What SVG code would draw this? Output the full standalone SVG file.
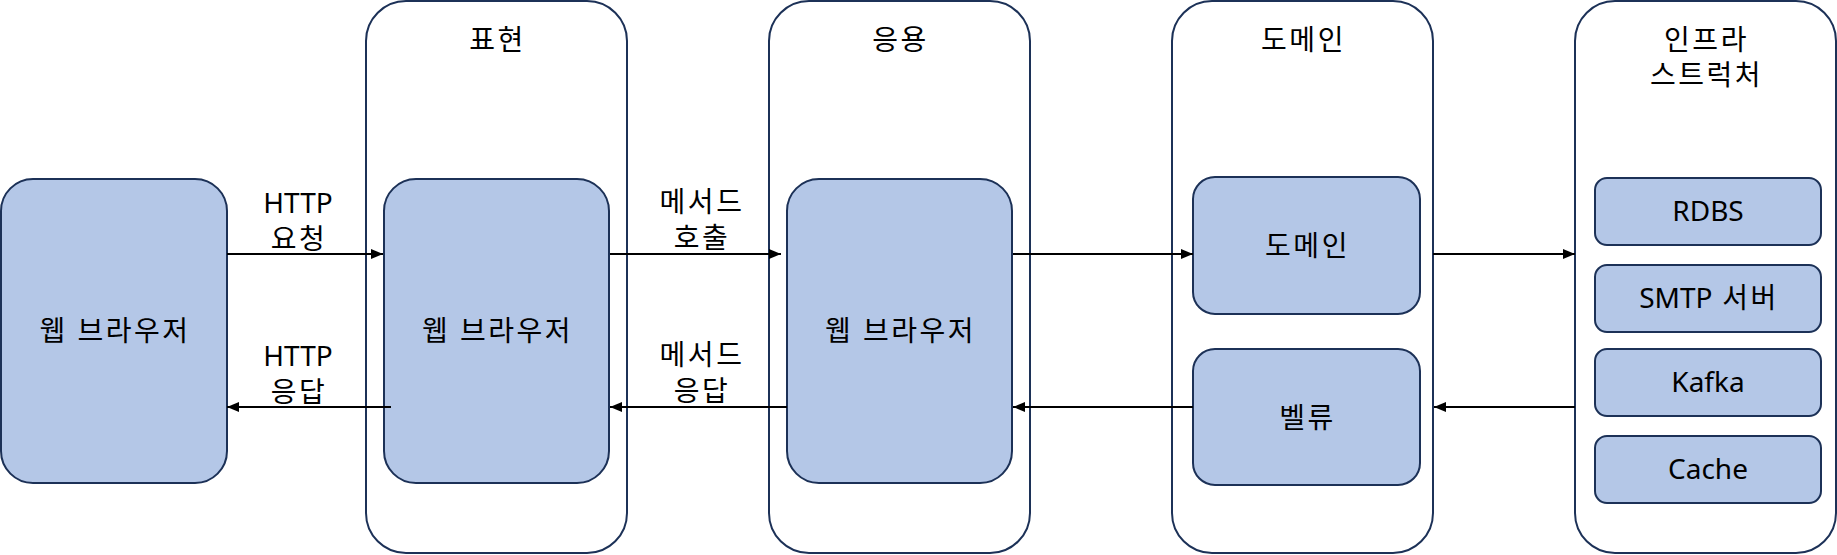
<svg xmlns="http://www.w3.org/2000/svg" width="1837" height="555" viewBox="0 0 1837 555">
<style>
.col{fill:#ffffff;stroke:#1c3157;stroke-width:2}
.box{fill:#b4c7e7;stroke:#1c3157;stroke-width:2}
.t{font-family:"Noto Sans","Noto Sans CJK KR",sans-serif;font-size:28px;fill:#000;text-anchor:middle}
.k{letter-spacing:2.5px}
.ln{stroke:#000;stroke-width:2;fill:none;marker-end:url(#ah)}
</style>
<defs>
<marker id="ah" viewBox="0 0 12 10" refX="12" refY="5" markerWidth="12" markerHeight="10" markerUnits="userSpaceOnUse" orient="auto">
<path d="M0,0 L12,5 L0,10 Z" fill="#000"/>
</marker>
</defs>
<g id="col-presentation"><rect class="col" x="366" y="1" width="261" height="552" rx="40"/><text class="t k" x="497.5" y="50">표현</text></g>
<g id="col-application"><rect class="col" x="769" y="1" width="261" height="552" rx="40"/><text class="t k" x="900.5" y="50">응용</text></g>
<g id="col-domain"><rect class="col" x="1172" y="1" width="261" height="552" rx="40"/><text class="t k" x="1303.5" y="50">도메인</text></g>
<g id="col-infra"><rect class="col" x="1575" y="1" width="261" height="552" rx="40"/><text class="t k" x="1706.5" y="50">인프라<tspan x="1706.5" dy="35">스트럭처</tspan></text></g>
<g id="browser"><rect class="box" x="1" y="179" width="226" height="304" rx="32"/><text class="t k" x="115" y="341">웹 브라우저</text></g>
<g id="presentation-node"><rect class="box" x="384" y="179" width="225" height="304" rx="32"/><text class="t k" x="497.5" y="341">웹 브라우저</text></g>
<g id="application-node"><rect class="box" x="787" y="179" width="225" height="304" rx="32"/><text class="t k" x="900.5" y="341">웹 브라우저</text></g>
<g id="domain-node"><rect class="box" x="1193" y="177" width="227" height="137" rx="22"/><text class="t k" x="1307.5" y="256">도메인</text></g>
<g id="value-node"><rect class="box" x="1193" y="349" width="227" height="136" rx="22"/><text class="t k" x="1307.5" y="428">벨류</text></g>
<g id="rdbs"><rect class="box" x="1595" y="178" width="226" height="67" rx="12"/><text class="t" x="1708" y="221">RDBS</text></g>
<g id="smtp"><rect class="box" x="1595" y="265" width="226" height="67" rx="12"/><text class="t" x="1709" y="308">SMTP<tspan class="k"> 서버</tspan></text></g>
<g id="kafka"><rect class="box" x="1595" y="349" width="226" height="67" rx="12"/><text class="t" x="1708" y="392">Kafka</text></g>
<g id="cache"><rect class="box" x="1595" y="436" width="226" height="67" rx="12"/><text class="t" x="1708" y="479">Cache</text></g>
<g id="connectors">
<line class="ln" x1="227" y1="254" x2="383" y2="254"/>
<line class="ln" x1="391" y1="407" x2="227" y2="407"/>
<line class="ln" x1="610" y1="254" x2="781" y2="254"/>
<line class="ln" x1="787" y1="407" x2="610" y2="407"/>
<line class="ln" x1="1013" y1="254" x2="1193" y2="254"/>
<line class="ln" x1="1193" y1="407" x2="1013" y2="407"/>
<line class="ln" x1="1433" y1="254" x2="1575" y2="254"/>
<line class="ln" x1="1575" y1="407" x2="1434" y2="407"/>
<text class="t" x="298" y="213">HTTP<tspan class="k" x="299" dy="36">요청</tspan></text>
<text class="t" x="298" y="366">HTTP<tspan class="k" x="299" dy="36">응답</tspan></text>
<text class="t k" x="702" y="212">메서드<tspan x="702" dy="36">호출</tspan></text>
<text class="t k" x="702" y="365">메서드<tspan x="702" dy="36">응답</tspan></text>
</g>
</svg>
